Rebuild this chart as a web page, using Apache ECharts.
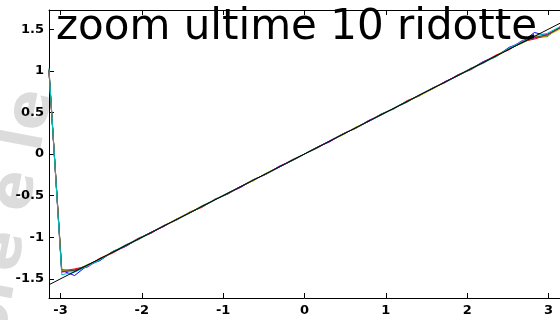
<!DOCTYPE html>
<html>
<head>
<meta charset="utf-8">
<script src="https://cdn.jsdelivr.net/npm/echarts@6/dist/echarts.min.js"></script>
<style>
  html, body { margin: 0; padding: 0; background: #fff; }
  #chart { width: 560px; height: 320px; }
</style>
</head>
<body>
<div id="chart"></div>
<script>
// sample positions (x from -pi to pi)
var xs = [-3.142, -2.985, -2.827, -2.670, -2.513, -2.356, -2.199, -2.042, -1.885, -1.728,
  -1.571, -1.414, -1.257, -1.100, -0.942, -0.785, -0.628, -0.471, -0.314, -0.157,
  0, 0.157, 0.314, 0.471, 0.628, 0.785, 0.942, 1.100, 1.257, 1.414,
  1.571, 1.728, 1.885, 2.042, 2.199, 2.356, 2.513, 2.670, 2.827, 2.985, 3.142];

var blueVals = [1.00, -1.40, -1.46, -1.34, -1.28, -1.17, -1.11, -1.02, -0.95, -0.86,
  -0.79, -0.70, -0.63, -0.55, -0.47, -0.40, -0.31, -0.24, -0.15, -0.08,
  0.00, 0.08, 0.15, 0.24, 0.31, 0.40, 0.47, 0.55, 0.63, 0.70,
  0.79, 0.86, 0.95, 1.02, 1.11, 1.17, 1.28, 1.34, 1.46, 1.42, 1.52];
var greenVals = [1.02, -1.39, -1.40, -1.33, -1.27, -1.18, -1.09, -1.03, -0.94, -0.87,
  -0.78, -0.71, -0.62, -0.55, -0.48, -0.39, -0.32, -0.23, -0.16, -0.08,
  0.00, 0.08, 0.16, 0.23, 0.32, 0.39, 0.48, 0.55, 0.62, 0.71,
  0.78, 0.87, 0.94, 1.03, 1.09, 1.18, 1.27, 1.33, 1.40, 1.41, 1.53];
var redVals = [1.01, -1.41, -1.38, -1.35, -1.25, -1.19, -1.10, -1.01, -0.95, -0.86,
  -0.79, -0.70, -0.64, -0.54, -0.48, -0.39, -0.31, -0.24, -0.16, -0.07,
  0.00, 0.07, 0.16, 0.24, 0.31, 0.39, 0.48, 0.54, 0.64, 0.70,
  0.79, 0.86, 0.95, 1.01, 1.10, 1.19, 1.25, 1.35, 1.38, 1.43, 1.51];
var magentaVals = [1.00, -1.42, -1.39, -1.36, -1.26, -1.18, -1.11, -1.02, -0.94, -0.87,
  -0.78, -0.71, -0.63, -0.55, -0.47, -0.40, -0.31, -0.24, -0.15, -0.08,
  0.00, 0.08, 0.15, 0.24, 0.31, 0.40, 0.47, 0.55, 0.63, 0.71,
  0.78, 0.87, 0.94, 1.02, 1.11, 1.18, 1.26, 1.36, 1.39, 1.44, 1.52];
var oliveVals = [0.99, -1.40, -1.41, -1.33, -1.26, -1.17, -1.10, -1.02, -0.94, -0.86,
  -0.78, -0.70, -0.63, -0.55, -0.47, -0.39, -0.32, -0.23, -0.16, -0.08,
  0.00, 0.08, 0.16, 0.23, 0.32, 0.39, 0.47, 0.55, 0.63, 0.70,
  0.78, 0.86, 0.94, 1.02, 1.10, 1.17, 1.26, 1.33, 1.41, 1.42, 1.50];
var grayVals = [1.00, -1.41, -1.40, -1.34, -1.26, -1.18, -1.10, -1.02, -0.94, -0.86,
  -0.79, -0.71, -0.63, -0.55, -0.47, -0.39, -0.31, -0.24, -0.16, -0.08,
  0.00, 0.08, 0.16, 0.24, 0.31, 0.39, 0.47, 0.55, 0.63, 0.71,
  0.79, 0.86, 0.94, 1.02, 1.10, 1.18, 1.26, 1.34, 1.40, 1.43, 1.52];
var cyanVals = [1.03, -1.45, -1.42, -1.35, -1.27, -1.17, -1.10, -1.02, -0.94, -0.86,
  -0.79, -0.71, -0.63, -0.55, -0.47, -0.39, -0.31, -0.24, -0.16, -0.08,
  0.00, 0.08, 0.16, 0.24, 0.31, 0.39, 0.47, 0.55, 0.63, 0.71,
  0.79, 0.86, 0.94, 1.02, 1.10, 1.17, 1.27, 1.35, 1.42, 1.45, 1.53];

// straight reference line
var refX = [-3.1416, 3.1416];
var refY = [-1.5708, 1.5708];

var xTicks = [-3, -2, -1, 0, 1, 2, 3];
var yTicks = [-1.5, -1, -0.5, 0, 0.5, 1, 1.5];

var chart = echarts.init(document.getElementById("chart"));

function pairs(a, b) {
  return a.map(function (x, i) { return [x, b[i]]; });
}

function curve(vals, color) {
  return {
    type: "line",
    data: pairs(xs, vals),
    symbol: "none",
    animation: false,
    lineStyle: { color: color, width: 1 },
  };
}

var labelFont = { color: "#000", fontWeight: "bold", fontSize: 13, fontFamily: "DejaVu Sans" };

var option = {
  backgroundColor: "#fff",
  animation: false,
  grid: { left: 49, top: 10, width: 522, height: 288 },
  xAxis: [
    {
      type: "value",
      min: -3.1416,
      max: 3.1416,
      splitLine: { show: false },
      axisLine: { onZero: false, lineStyle: { color: "#000", width: 1 } },
      axisTick: { inside: true, length: 5, customValues: xTicks, lineStyle: { color: "#000" } },
      axisLabel: Object.assign({ margin: 6, customValues: xTicks }, labelFont),
    },
    {
      type: "value",
      position: "top",
      min: -3.1416,
      max: 3.1416,
      splitLine: { show: false },
      axisLine: { onZero: false, lineStyle: { color: "#000", width: 1 } },
      axisTick: { inside: true, length: 5, customValues: xTicks, lineStyle: { color: "#000" } },
      axisLabel: { show: false },
    },
  ],
  yAxis: {
    type: "value",
    min: -1.73,
    max: 1.73,
    splitLine: { show: false },
    axisLine: { onZero: false, lineStyle: { color: "#000", width: 1 } },
    axisTick: { inside: true, length: 5, customValues: yTicks, lineStyle: { color: "#000" } },
    axisLabel: Object.assign({
      margin: 5,
      customValues: yTicks,
      formatter: function (v) { return String(v); },
    }, labelFont),
  },
  graphic: [
    // faint watermark behind the plot, on the left margin
    {
      type: "text",
      x: -42,
      y: 335,
      rotation: 1.38,
      z: -10,
      style: {
        text: "ore e le",
        font: "bold 60px 'DejaVu Sans'",
        fill: "#dcdcdc",
      },
    },
    {
      type: "text",
      left: 56,
      top: 7,
      z: 100,
      style: {
        text: "zoom ultime 10 ridotte",
        font: "42px 'DejaVu Sans'",
        fill: "#000",
      },
    },
  ],
  series: [
    curve(blueVals, "rgb(0,0,255)"),
    curve(greenVals, "rgb(0,128,0)"),
    curve(redVals, "rgb(255,0,0)"),
    curve(magentaVals, "rgb(191,0,191)"),
    curve(oliveVals, "rgb(191,191,0)"),
    curve(grayVals, "rgb(64,64,64)"),
    curve(cyanVals, "rgb(0,191,191)"),
    {
      type: "line",
      data: pairs(refX, refY),
      symbol: "none",
      animation: false,
      lineStyle: { color: "#000", width: 1 },
    },
  ],
};

chart.setOption(option);
</script>
</body>
</html>
